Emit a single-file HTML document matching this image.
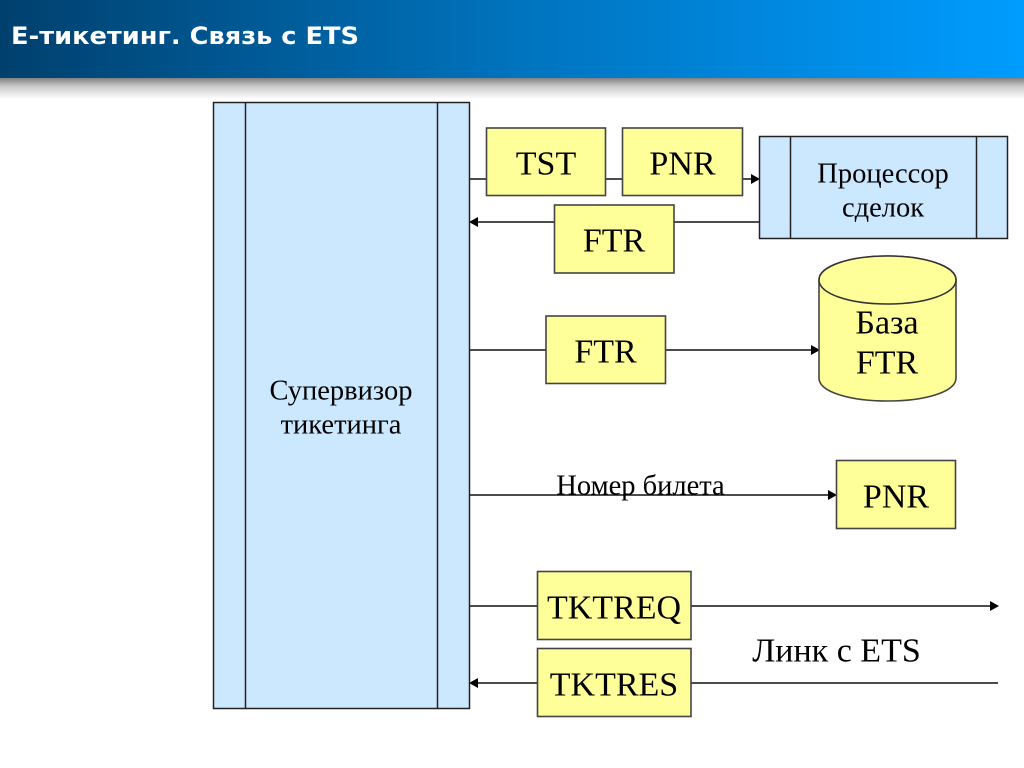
<!DOCTYPE html>
<html><head><meta charset="utf-8"><style>
html,body{margin:0;padding:0;background:#fff;width:1024px;height:768px;overflow:hidden}
svg{display:block}
text{font-family:"Liberation Serif",serif;fill:#000}
</style></head><body>
<svg width="1024" height="768" viewBox="0 0 1024 768" xmlns="http://www.w3.org/2000/svg">
<defs>
<linearGradient id="h" x1="0" x2="1" y1="0" y2="0"><stop offset="0" stop-color="#00406e"/><stop offset=".5" stop-color="#0073bd"/><stop offset="1" stop-color="#009cff"/></linearGradient>
<linearGradient id="s" x1="0" x2="0" y1="0" y2="1"><stop offset="0" stop-color="#808080"/><stop offset=".4" stop-color="#cbcbcb"/><stop offset="1" stop-color="#fff"/></linearGradient>
</defs>
<rect x="0" y="0" width="1024" height="78" fill="url(#h)"/>
<rect x="0" y="78" width="1024" height="21" fill="url(#s)"/>
<text x="11" y="44" textLength="348" lengthAdjust="spacingAndGlyphs" style="font-family:'DejaVu Sans',sans-serif;font-weight:bold;font-size:24px;fill:#fff">Е-тикетинг. Связь с ETS</text>

<g stroke="#111" stroke-width="1.600" fill="none">
<line x1="469" y1="179" x2="752" y2="179"/>
<line x1="477" y1="222" x2="759" y2="222"/>
<line x1="469" y1="350" x2="812" y2="350"/>
<line x1="469" y1="495" x2="829" y2="495"/>
<line x1="469" y1="606" x2="991" y2="606"/>
<line x1="477" y1="683" x2="998" y2="683"/>
</g>
<g fill="#000">
<path d="M760 179l-9-5v10z"/>
<path d="M469 222l9-5v10z"/>
<path d="M820 350l-9-5v10z"/>
<path d="M837 495l-9-5v10z"/>
<path d="M999 606l-9-5v10z"/>
<path d="M469 683l9-5v10z"/>
</g>

<g fill="#cce8ff" stroke="#222" stroke-width="1.500">
<rect x="213.500" y="102.500" width="256" height="606"/>
<line x1="245.500" y1="102.500" x2="245.500" y2="708.500"/>
<line x1="437.500" y1="102.500" x2="437.500" y2="708.500"/>
<rect x="759.500" y="136.500" width="248" height="102"/>
<line x1="790.500" y1="136.500" x2="790.500" y2="238.500"/>
<line x1="976.500" y1="136.500" x2="976.500" y2="238.500"/>
</g>

<g fill="#ffff99" stroke="#444" stroke-width="1.600">
<rect x="486.500" y="128" width="119" height="67.500"/>
<rect x="622.500" y="128" width="120" height="67.500"/>
<rect x="554.500" y="205" width="119.500" height="68"/>
<rect x="546" y="316" width="119.500" height="67.500"/>
<rect x="836.500" y="460.500" width="119" height="68"/>
<rect x="537.500" y="571.500" width="153.500" height="68"/>
<rect x="537.500" y="648.500" width="153.500" height="68"/>
<path d="M819 280V378C819 392 850 401 887.500 401S956 392 956 378V280C956 266 925 256 887.500 256S819 266 819 280Z"/>
</g>
<path d="M819 280C819 294 850 304 887.500 304S956 294 956 280C956 266 925 256 887.500 256S819 266 819 280Z" fill="#ffff99" stroke="#333" stroke-width="1.500"/>

<g text-anchor="middle" font-size="34">
<text x="546" y="174.500">TST</text>
<text x="682.500" y="174.500">PNR</text>
<text x="614" y="251.500">FTR</text>
<text x="605.500" y="362.500">FTR</text>
<text x="887" y="333.500">База</text>
<text x="887" y="373.500">FTR</text>
<text x="896" y="507.500">PNR</text>
<text x="614" y="618.500">TKTREQ</text>
<text x="614" y="695.500">TKTRES</text>
</g>
<g text-anchor="middle" font-size="28.500">
<text x="883" y="182.500">Процессор</text>
<text x="883" y="216.500">сделок</text>
<text x="341" y="399.500">Супервизор</text>
<text x="341" y="433.500">тикетинга</text>
<text x="640.500" y="494.500">Номер билета</text>
</g>
<text x="836.500" y="661.500" text-anchor="middle" font-size="34">Линк с ETS</text>
</svg>
</body></html>
